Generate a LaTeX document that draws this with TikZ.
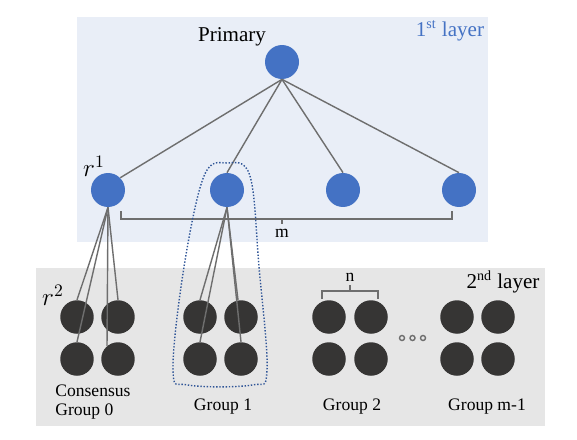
\documentclass[tikz,border=0pt]{standalone}
\usepackage{fontspec}
\setmainfont{Liberation Serif}
\usepackage{amsmath}
\usepackage{tikz}
\usetikzlibrary{positioning}
\definecolor{nodeblue}{HTML}{4472C4}
\definecolor{layerblue}{HTML}{E9EEF7}
\definecolor{layergray}{HTML}{E6E6E6}
\definecolor{nodedark}{HTML}{363534}
\definecolor{linkgray}{HTML}{6E6E6E}
\definecolor{groupline}{HTML}{2F5597}
\tikzstyle{top}=[circle, fill = nodeblue, minimum size = .68cm, inner sep = 0cm]
\tikzstyle{rep}=[circle, fill = nodedark, minimum size = .67cm, inner sep = 0cm]
\tikzstyle{link}=[color = linkgray, line width = .8pt]
\tikzstyle{lab}=[inner sep = .02 cm, font = \fontsize{10}{11}\selectfont]
\tikzstyle{rlab}=[inner sep = 0cm, font = \fontsize{14}{15}\selectfont]

\begin{document}
\begin{tikzpicture}[x = .02cm, y = -.02cm]
\useasboundingbox (0, 0) rectangle (577, 439);
\fill [layerblue] (77, 17) rectangle (488, 242);
\fill [layergray] (36, 268) rectangle (545, 426);
%%%%%%%%%%%%%%%%%%%%%%%
\node (p) at (282, 62) [top] {};
\node (a1) at (108, 190) [top] {};
\node (a2) at (227, 190) [top] {};
\node (a3) at (343, 190) [top] {};
\node (a4) at (459, 190) [top] {};
\node (prim) at (232, 37) [inner sep = 0cm, font = \fontsize{12}{13}\selectfont] {Primary};
\node (l1) at (450, 31) [inner sep = 0cm, text = nodeblue, font = \fontsize{12}{13}\selectfont] {1\textsuperscript{st} layer};
\node (r1) at (94, 166) [rlab] {$r^1$};
%%%%%%%%%%%%%%%%%%%%%%%
\draw [link] (p.south) to (a1.45);
\draw [link] (p.south) to (a2.north);
\draw [link] (p.south) to (a3.north);
\draw [link] (p.south) to (a4.north);
\draw [link] (121, 211) -- (121, 219) -- (452, 219) -- (452, 211);
\draw [link] (282, 219) -- (282, 224);
\node (m) at (282, 233) [lab] {m};
%%%%%%%%%%%%%%%%%%%%%%%
\node (g0a) at (77, 317) [rep] {};
\node (g0b) at (118, 317) [rep] {};
\node (g0c) at (77, 359) [rep] {};
\node (g0d) at (118, 359) [rep] {};
\node (g1a) at (200, 317) [rep] {};
\node (g1b) at (241, 317) [rep] {};
\node (g1c) at (200, 359) [rep] {};
\node (g1d) at (241, 359) [rep] {};
\node (g2a) at (329, 317) [rep] {};
\node (g2b) at (371, 317) [rep] {};
\node (g2c) at (329, 359) [rep] {};
\node (g2d) at (371, 359) [rep] {};
\node (gma) at (457, 317) [rep] {};
\node (gmb) at (498, 317) [rep] {};
\node (gmc) at (457, 359) [rep] {};
\node (gmd) at (498, 359) [rep] {};
\node (r2) at (53, 295) [rlab] {$r^2$};
\node (l2) at (503, 282) [inner sep = 0cm, font = \fontsize{12}{13}\selectfont] {2\textsuperscript{nd} layer};
%%%%%%%%%%%%%%%%%%%%%%%
\draw [link] (a1.south) to (g0a.north);
\draw [link] (a1.south) to (g0b.north);
\draw [link] (a1.south) to (g0c.north);
\draw [link] (a1.south) to (g0d.130);
\draw [link] (a2.south) to (g1a.north);
\draw [link] (a2.south) to (g1b.100);
\draw [link] (a2.south) to (g1c.north);
\draw [link] (a2.south) to (g1d.north);
%\draw (g1) outline
\draw [groupline, densely dotted, thick] plot [smooth cycle, tension = .6] coordinates {(227, 163) (250, 176) (259, 267) (267, 370) (252, 385) (188, 385) (173, 370) (184, 267) (204, 176)};
%%%%%%%%%%%%%%%%%%%%%%%
\draw [link] (322, 299) -- (322, 291) -- (378, 291) -- (378, 299);
\draw [link] (350, 291) -- (350, 285);
\node (n) at (350, 277) [lab] {n};
\node (d1) at (402, 338) [circle, draw = linkgray, thick, inner sep = 0cm, minimum size = .1cm] {};
\node (d2) at (412.5, 338) [circle, draw = linkgray, thick, inner sep = 0cm, minimum size = .1cm] {};
\node (d3) at (423, 338) [circle, draw = linkgray, thick, inner sep = 0cm, minimum size = .1cm] {};
\node (c0) at (54, 402) [lab, anchor = west, align = left] {Consensus\\Group 0};
\node (c1) at (223, 407) [lab] {Group 1};
\node (c2) at (352, 407) [lab] {Group 2};
\node (cm) at (487, 407) [lab] {Group m-1};
\end{tikzpicture}
\end{document}
